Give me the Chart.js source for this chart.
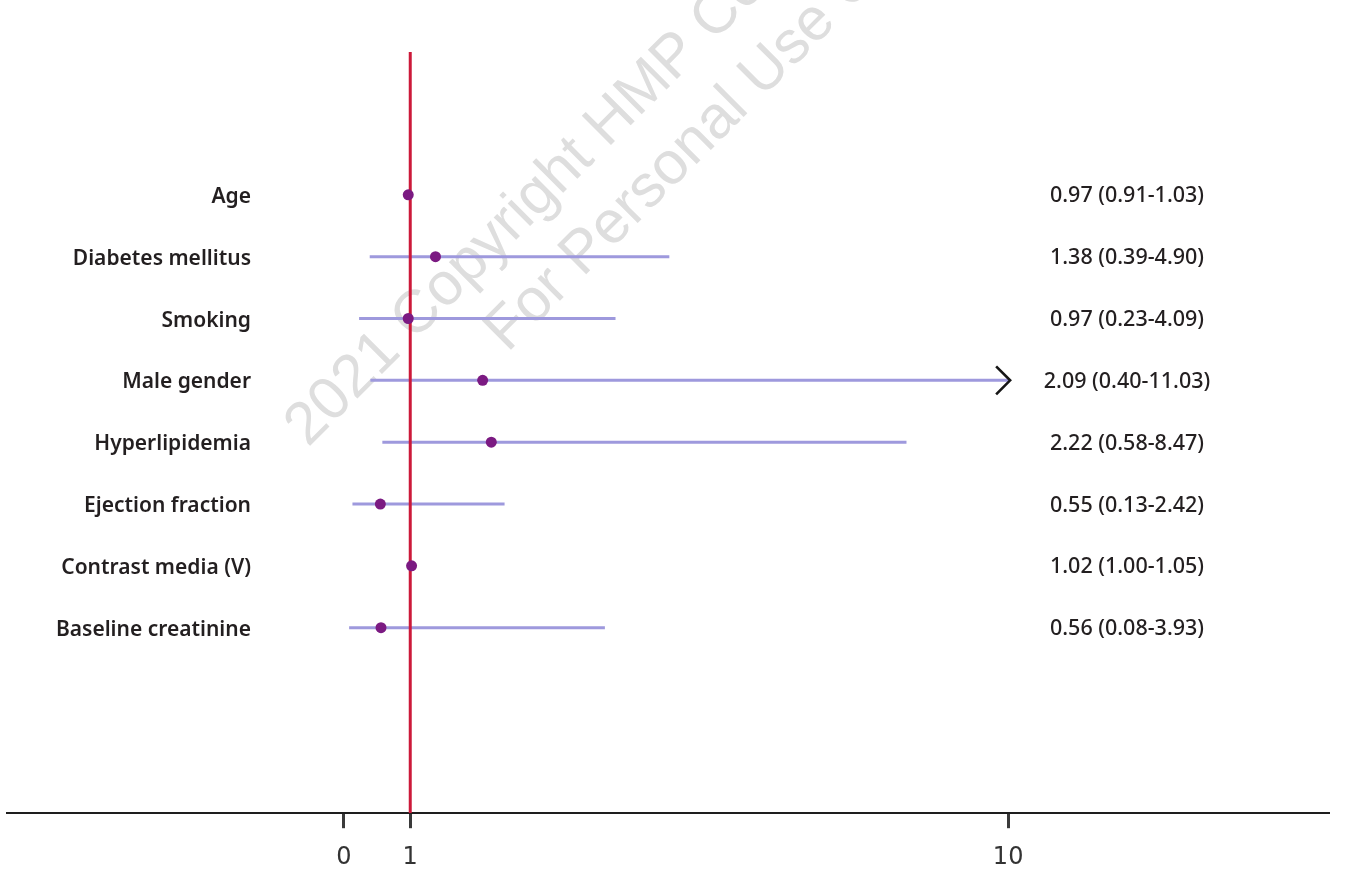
<!DOCTYPE html>
<html>
<head>
<meta charset="utf-8">
<title>Forest plot</title>
<script src="https://cdn.jsdelivr.net/npm/chart.js@4.4.1/dist/chart.umd.min.js"></script>
<style>
  html, body { margin: 0; padding: 0; background: #fff; }
  #wrap { width: 1350px; height: 884px; position: relative; }
</style>
</head>
<body>
<div id="wrap"><canvas id="forest"></canvas></div>
<script>
/* ── data ─────────────────────────────────────────────────── */
var factors = ["Age", "Diabetes mellitus", "Smoking", "Male gender",
  "Hyperlipidemia", "Ejection fraction", "Contrast media (V)", "Baseline creatinine"];
var oddsRatio = [0.97, 1.38, 0.97, 2.09, 2.22, 0.55, 1.02, 0.56];
var ciLow = [0.91, 0.39, 0.23, 0.40, 0.58, 0.13, 1.00, 0.08];
var ciHigh = [1.03, 4.90, 4.09, 11.03, 8.47, 2.42, 1.05, 3.93];
var xTicks = [0, 1, 10];
var ciCap = 10;      // intervals reaching past this end in an arrow
var refValue = 1;    // line of no effect
var watermark = ["2021 Copyright HMP Co", "For Personal Use O"];

/* ── layout of the plot ───────────────────────────────────── */
var X_MIN = -5.07, X_MAX = 14.83;
var Y_MIN = -2.31, Y_MAX = 10;
var TEXT = "#231f20";

function fmt(v) { return v.toFixed(2); }

/* ── watermark, under everything ──────────────────────────── */
var watermarkPlugin = {
  id: "watermark",
  beforeDatasetsDraw: function (chart) {
    var ctx = chart.ctx;
    ctx.save();
    ctx.translate(308, 448);
    ctx.rotate(-45 * Math.PI / 180);
    ctx.font = "60px 'Liberation Sans', Arial, sans-serif";
    ctx.fillStyle = "#dedede";
    ctx.textAlign = "left";
    ctx.textBaseline = "alphabetic";
    ctx.fillText(watermark[0], 0, 0);
    ctx.fillText(watermark[1], 208, 74);
    ctx.restore();
  }
};

/* ── row labels, estimates and arrows ─────────────────────── */
var labelsPlugin = {
  id: "forestLabels",
  afterDatasetsDraw: function (chart) {
    var ctx = chart.ctx, xs = chart.scales.x, ys = chart.scales.y;
    ctx.save();
    ctx.fillStyle = TEXT;
    ctx.textBaseline = "alphabetic";
    factors.forEach(function (name, i) {
      var y = ys.getPixelForValue(i);
      ctx.font = "600 21px 'Noto Sans', sans-serif";
      ctx.textAlign = "right";
      ctx.fillText(name, 251, y + 8);

      ctx.font = "500 21.5px 'Noto Sans', sans-serif";
      ctx.textAlign = "center";
      ctx.fillText(fmt(oddsRatio[i]) + " (" + fmt(ciLow[i]) + "-" + fmt(ciHigh[i]) + ")", 1127, y + 7.5);

      if (ciHigh[i] > ciCap) {
        var tip = xs.getPixelForValue(ciCap) + 2;
        ctx.beginPath();
        ctx.moveTo(tip - 14, y - 14);
        ctx.lineTo(tip, y);
        ctx.lineTo(tip - 14, y + 14);
        ctx.strokeStyle = "#161616";
        ctx.lineWidth = 2.6;
        ctx.stroke();
      }
    });
    ctx.restore();
  }
};

/* ── datasets ─────────────────────────────────────────────── */
var ciSets = factors.map(function (name, i) {
  return {
    label: name + " CI",
    data: [{ x: ciLow[i], y: i }, { x: Math.min(ciHigh[i], ciCap), y: i }],
    showLine: true,
    borderColor: "#9e99dd",
    borderWidth: 3,
    pointRadius: 0,
    pointHoverRadius: 0,
    order: 3
  };
});

var refSet = {
  label: "reference",
  data: [{ x: refValue, y: Y_MIN }, { x: refValue, y: Y_MAX }],
  showLine: true,
  borderColor: "#cc1939",
  borderWidth: 3,
  pointRadius: 0,
  pointHoverRadius: 0,
  order: 2
};

var pointSet = {
  label: "Odds ratio",
  data: factors.map(function (n, i) { return { x: oddsRatio[i], y: i }; }),
  backgroundColor: "#7b1a82",
  borderWidth: 0,
  pointRadius: 5.5,
  pointHoverRadius: 5.5,
  order: 1
};

new Chart(document.getElementById("forest"), {
  type: "scatter",
  data: { datasets: [pointSet, refSet].concat(ciSets) },
  options: {
    responsive: true,
    maintainAspectRatio: false,
    animation: false,
    events: [],
    layout: { padding: { left: 7, right: 21, top: 52, bottom: -3 } },
    plugins: { legend: { display: false }, tooltip: { enabled: false } },
    scales: {
      x: {
        type: "linear",
        min: X_MIN,
        max: X_MAX,
        afterBuildTicks: function (scale) {
          scale.ticks = xTicks.map(function (v) { return { value: v }; });
        },
        ticks: {
          autoSkip: false,
          maxRotation: 0,
          padding: 15,
          color: "#333",
          font: { family: "'DejaVu Sans', sans-serif", size: 24 },
          callback: function (v) { return String(v); }
        },
        grid: {
          display: true,
          drawOnChartArea: false,
          drawTicks: true,
          tickLength: 15,
          tickWidth: 3,
          tickColor: "#3a3a3a"
        },
        border: { display: true, color: "#1e1e1e", width: 2 }
      },
      y: {
        type: "linear",
        display: false,
        reverse: true,
        min: Y_MIN,
        max: Y_MAX
      }
    }
  },
  plugins: [watermarkPlugin, labelsPlugin]
});
</script>
</body>
</html>
